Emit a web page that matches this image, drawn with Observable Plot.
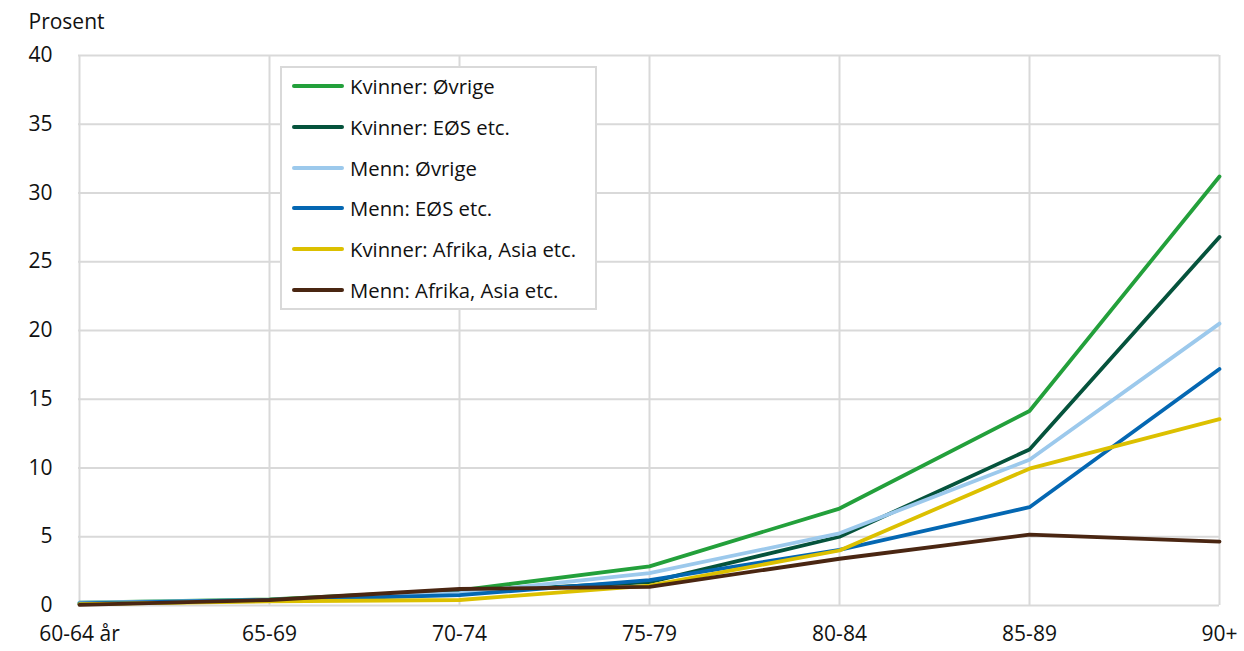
<!DOCTYPE html>
<html><head><meta charset="utf-8">
<script src="https://cdn.jsdelivr.net/npm/d3@7"></script>
<script src="https://cdn.jsdelivr.net/npm/@observablehq/plot@0.6"></script>
<style>
body{margin:0;background:#fff;font-family:"Open Sans",sans-serif}
#wrap{position:relative;width:1244px;height:651px}
#legend{position:absolute;left:280px;top:66px;width:313px;height:240px;border:2px solid #d9d9d9;background:#fff;box-sizing:content-box}
.row{position:absolute;left:0;height:30px;display:flex;align-items:center;font-size:20.3px;color:#111;white-space:nowrap}
.sw{width:52px;height:4px;border-radius:2px;margin-left:10px;margin-right:6px}
</style></head><body>
<div id="wrap"></div>
<script>
const ageGroups = ["60-64 år","65-69","70-74","75-79","80-84","85-89","90+"];
const seriesNames = ["Kvinner: Øvrige","Kvinner: EØS etc.","Menn: Øvrige","Menn: EØS etc.","Kvinner: Afrika, Asia etc.","Menn: Afrika, Asia etc."];
const seriesColors = ["#23a03b","#05533c","#9cc9ec","#0467b2","#dcc000","#4a2612"];
const kvinnerOvrige = [0.2, 0.45, 1.1, 2.85, 7.05, 14.15, 31.2];
const kvinnerEos    = [0.1, 0.35, 1.0, 1.7, 5.0, 11.35, 26.8];
const mennOvrige    = [0.2, 0.4, 0.9, 2.35, 5.25, 10.6, 20.5];
const mennEos       = [0.15, 0.4, 0.75, 1.85, 4.05, 7.15, 17.2];
const kvinnerAfrika = [0.1, 0.3, 0.4, 1.45, 4.0, 9.95, 13.55];
const mennAfrika    = [0.05, 0.4, 1.2, 1.35, 3.4, 5.15, 4.65];
const yTicks = [0,5,10,15,20,25,30,35,40];

const allSeries = [kvinnerOvrige,kvinnerEos,mennOvrige,mennEos,kvinnerAfrika,mennAfrika];
const data = [];
allSeries.forEach((vals,i)=>vals.forEach((v,j)=>data.push({serie:seriesNames[i],age:ageGroups[j],value:v})));

const chart = Plot.plot({
  width:1244, height:651,
  marginLeft:78, marginRight:25, marginTop:55, marginBottom:46,
  style:{fontFamily:"Open Sans, sans-serif", fontSize:"21px", color:"#111", background:"#fff"},
  x:{type:"point", domain:ageGroups, padding:0, label:null},
  y:{domain:[0,40], ticks:yTicks, label:null},
  color:{domain:seriesNames, range:seriesColors},
  marks:[
    Plot.gridX(ageGroups,{stroke:"#d9d9d9",strokeOpacity:1,strokeWidth:2}),
    Plot.gridY(yTicks,{stroke:"#d9d9d9",strokeOpacity:1,strokeWidth:2}),
    Plot.axisX({tickSize:0,tickPadding:21,fontSize:21}),
    Plot.axisY(yTicks,{tickSize:0,tickPadding:26,fontSize:21}),
    Plot.line(data,{x:"age",y:"value",z:"serie",stroke:"serie",strokeWidth:3.8,strokeLinejoin:"round"}),
    Plot.text(["Prosent"],{frameAnchor:"top-left",dx:-50,dy:-33,textAnchor:"start",lineAnchor:"middle",fontSize:21,fill:"#111"})
  ]
});
const wrap=document.getElementById("wrap");
wrap.appendChild(chart);
const lg=document.createElement("div");lg.id="legend";
seriesNames.forEach((n,i)=>{
  const r=document.createElement("div");r.className="row";r.style.top=(3+i*40.8)+"px";
  const s=document.createElement("div");s.className="sw";s.style.background=seriesColors[i];
  const t=document.createElement("span");t.textContent=n;
  r.appendChild(s);r.appendChild(t);lg.appendChild(r);
});
wrap.appendChild(lg);
</script>
</body></html>
